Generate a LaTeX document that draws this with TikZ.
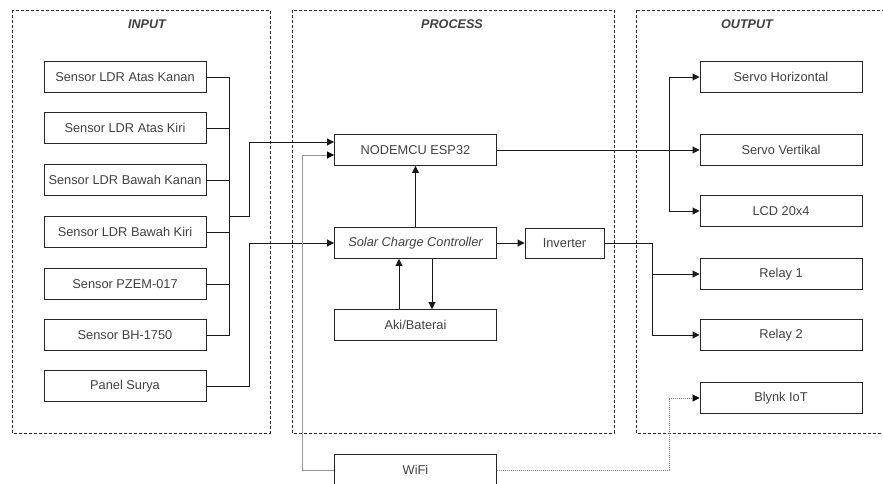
\documentclass[tikz,border=0pt]{standalone}
\usepackage{fontspec}
\setmainfont{Liberation Sans}
\usetikzlibrary{arrows.meta}

\begin{document}
\begin{tikzpicture}
    [
    x = 1pt, y = -1pt,
    every node/.style = {font=\fontsize{12.8}{14}\selectfont, text=black!75},
    block/.style      = {draw=black!85, line width=0.9pt, minimum width=162pt, minimum height=31pt, inner sep=0pt},
    small/.style      = {block, minimum width=79pt, minimum height=30pt},
    frame/.style      = {draw=black!85, line width=0.9pt, dash pattern=on 3pt off 2pt},
    title/.style      = {font=\fontsize{12.6}{14}\selectfont\bfseries\itshape},
    wire/.style       = {draw=black!90, line width=0.9pt},
    arr/.style        = {wire, -{Triangle[length=7pt, width=7pt]}},
    grayarr/.style    = {arr, draw=black!40, -{Triangle[length=7pt, width=7pt, color=black]}},
    dotarr/.style     = {arr, draw=black!50, dash pattern=on 1pt off 1pt, -{Triangle[length=7pt, width=7pt, color=black]}}
    ]
    \useasboundingbox (0,0) rectangle (883,483);

    % frames
    \draw [frame] (12,10) rectangle (270,433);
    \draw [frame] (292,10) rectangle (614,433);
    \draw [frame] (636,10) rectangle (910,433);
    \node [title] (tin)   at (147,24) {INPUT};
    \node [title] (tproc) at (452,24) {PROCESS};
    \node [title] (tout)  at (747,24) {OUTPUT};

    % input
    \node [block] (ldrak)  at (125,77)  {Sensor LDR Atas Kanan};
    \node [block] (ldrakr) at (125,128) {Sensor LDR Atas Kiri};
    \node [block] (ldrbk)  at (125,180) {Sensor LDR Bawah Kanan};
    \node [block] (ldrbkr) at (125,232) {Sensor LDR Bawah Kiri};
    \node [block] (pzem)   at (125,284) {Sensor PZEM-017};
    \node [block] (bh)     at (125,335) {Sensor BH-1750};
    \node [block] (panel)  at (125,386) {Panel Surya};

    % process
    \node [block] (esp)  at (415.5,150) {NODEMCU ESP32};
    \node [block] (scc)  at (415.5,243) {\itshape Solar Charge Controller};
    \node [block] (aki)  at (415.5,325) {Aki/Baterai};
    \node [block] (wifi) at (415.5,470) {WiFi};
    \node [small] (inv)  at (564.5,243) {Inverter};

    % output
    \node [block] (servoh) at (781,77)  {Servo Horizontal};
    \node [block] (servov) at (781,150) {Servo Vertikal};
    \node [block] (lcd)    at (781,211) {LCD 20x4};
    \node [block] (relaya) at (781,274) {Relay 1};
    \node [block] (relayb) at (781,335) {Relay 2};
    \node [block] (blynk)  at (781,398) {Blynk IoT};

    \coordinate (injoin)   at (229,216);
    \coordinate (espsplit) at (669,150);
    \coordinate (invsplit) at (652,243);

    % sensors to bus
    \draw [wire] (ldrak.east) -| (bh.east -| injoin) -- (bh.east);
    \foreach \s in {ldrakr, ldrbk, ldrbkr, pzem}
        \draw [wire] (\s.east) -- (\s.east -| injoin);
    \draw [arr] (injoin) -- ++(20,0) |- ([yshift=8pt]esp.west);
    \draw [arr] (panel.east) -- ++(43,0) |- (scc.west);

    % process links
    \draw [arr] (scc.north) -- (esp.south);
    \draw [arr] ([xshift=-16.5pt]aki.north) -- ([xshift=-16.5pt]scc.south);
    \draw [arr] ([xshift=16.5pt]scc.south) -- ([xshift=16.5pt]aki.north);
    \draw [arr] (scc.east) -- (inv.west);
    \draw [grayarr] (wifi.west) -- ++(-32,0) |- ([yshift=-5pt]esp.west);

    % outputs
    \draw [arr] (esp.east) -- (servov.west);
    \draw [arr] (espsplit) |- (servoh.west);
    \draw [arr] (espsplit) |- (lcd.west);
    \draw [wire] (inv.east) -- (invsplit);
    \draw [arr] (invsplit) |- (relaya.west);
    \draw [arr] (invsplit) |- (relayb.west);
    \draw [dotarr] (wifi.east) -| (espsplit |- blynk.west) -- (blynk.west);
\end{tikzpicture}
\end{document}
